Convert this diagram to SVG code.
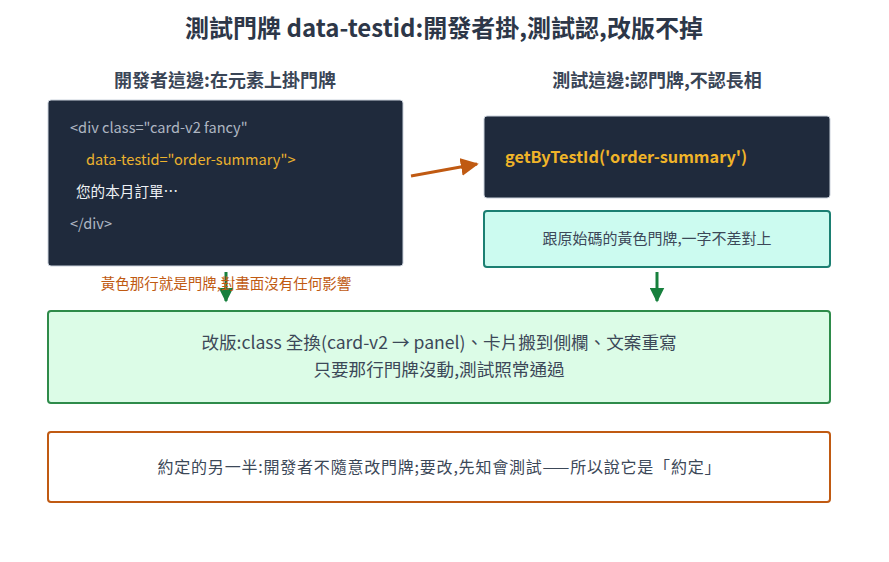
<svg xmlns="http://www.w3.org/2000/svg" width="889" height="562" viewBox="0 0 889 562">
<defs>
<style>
text{font-family:"Noto Sans CJK TC","Noto Sans",sans-serif;}
.title{font-size:24px;font-weight:bold;fill:#2d3748;}
.sub{font-size:18px;font-weight:bold;fill:#3a4556;}
.code{font-size:14.6px;fill:#aeb6c2;}
.yel{fill:#ecb22e;}
.body{font-size:15px;fill:#3c4858;}
.big{font-size:17.6px;fill:#3c4858;}
.dark{fill:#1f2a3c;stroke:#cbd2dc;stroke-width:1;}
</style>
<marker id="ah-o" viewBox="0 0 10 10" refX="9" refY="5" markerWidth="6" markerHeight="6" orient="auto" markerUnits="strokeWidth"><path d="M0,0 L10,5 L0,10 z" fill="#c05a12"/></marker>
<marker id="ah-g" viewBox="0 0 10 10" refX="9" refY="5" markerWidth="5" markerHeight="5" orient="auto" markerUnits="strokeWidth"><path d="M0,0 L10,5 L0,10 z" fill="#17803d"/></marker>
</defs>
<rect width="889" height="562" fill="#ffffff"/>
<text class="title" x="444" y="37" text-anchor="middle">測試門牌 data-testid:開發者掛,測試認,改版不掉</text>
<text class="sub" x="225" y="87" text-anchor="middle">開發者這邊:在元素上掛門牌</text>
<text class="sub" x="657" y="87" text-anchor="middle">測試這邊:認門牌,不認長相</text>
<g id="dev-code">
<rect class="dark" x="48" y="100" width="355" height="166" rx="3"/>
<text class="code" x="70" y="133">&lt;div class="card-v2 fancy"</text>
<text class="code yel" x="86" y="165">data-testid="order-summary"&gt;</text>
<text class="code" x="76" y="197" style="fill:#eef1f5">您的本月訂單⋯</text>
<text class="code" x="70" y="229">&lt;/div&gt;</text>
</g>
<g id="test-code">
<rect class="dark" x="484" y="116" width="346" height="82" rx="3"/>
<text x="505" y="163" style="font-size:16.3px;font-weight:bold;fill:#f0b429">getByTestId('order-summary')</text>
</g>
<g id="match">
<rect x="484" y="211" width="346" height="56" rx="3" fill="#ccfbf0" stroke="#1b7f72" stroke-width="2"/>
<text class="body" x="657" y="244" text-anchor="middle">跟原始碼的黃色門牌,一字不差對上</text>
</g>
<g id="redesign">
<rect x="48" y="311" width="782" height="92" rx="3" fill="#dcfce7" stroke="#2e8b4a" stroke-width="2"/>
<text class="big" x="439" y="349" text-anchor="middle">改版:class 全換(card-v2 → panel)、卡片搬到側欄、文案重寫</text>
<text class="big" x="439" y="376" text-anchor="middle">只要那行門牌沒動,測試照常通過</text>
</g>
<g id="contract">
<rect x="48" y="432" width="782" height="70" rx="3" fill="#ffffff" stroke="#c05a12" stroke-width="2"/>
<text class="body" x="439" y="473" text-anchor="middle" style="font-size:16px" textLength="563" lengthAdjust="spacing">約定的另一半:開發者不隨意改門牌;要改,先知會測試——所以說它是「約定」</text>
</g>
<g id="connectors">
<line x1="411" y1="176" x2="477" y2="164" stroke="#c05a12" stroke-width="3" marker-end="url(#ah-o)"/>
<line x1="226" y1="272" x2="226" y2="301" stroke="#17803d" stroke-width="3" marker-end="url(#ah-g)"/>
<line x1="657" y1="272" x2="657" y2="301" stroke="#17803d" stroke-width="3" marker-end="url(#ah-g)"/>
<text x="226" y="289" text-anchor="middle" style="font-size:14.5px;fill:#c05a12">黃色那行就是門牌,對畫面沒有任何影響</text>
</g>
</svg>
